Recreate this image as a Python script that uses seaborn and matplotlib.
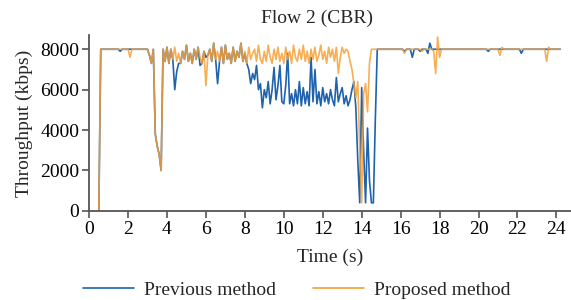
import numpy as np
import pandas as pd
import matplotlib
matplotlib.use("Agg")
import matplotlib.pyplot as plt
import seaborn as sns

sns.set_theme(style="ticks")
plt.rcParams["font.family"] = ["Liberation Serif", "DejaVu Serif"]
plt.rcParams["mathtext.fontset"] = "stix"

# time axis, 0.1 s samples from 0.5 s to 24.2 s
time_s = np.round(np.arange(5, 243) * 0.1, 1)

previous = (
    [0, 8000, 8000, 8000, 8000]
    + [8000, 8000, 8000, 8000, 8000, 8000, 7900, 8000, 8000, 8000]   # 1
    + [8000, 8000, 8000, 8000, 8000, 8000, 8000, 8000, 8000, 8000]   # 2
    + [8000, 7700, 7300, 8000, 3800, 3200, 2800, 2000, 8000, 7400]   # 3
    + [8100, 7300, 8000, 7500, 6000, 6900, 7300, 7300, 7900, 7500]   # 4
    + [8200, 7400, 7800, 7300, 8000, 7500, 8100, 7200, 7300, 7900]   # 5
    + [7600, 7700, 8000, 7400, 8300, 7500, 6300, 7400, 8100, 7300]   # 6
    + [8200, 7500, 7800, 7300, 8100, 7400, 7900, 7600, 8300, 7400]   # 7
    + [7800, 7300, 7000, 6300, 6800, 6500, 7200, 6000, 6300, 5100]   # 8
    + [6000, 5600, 6400, 5300, 6000, 7100, 5500, 6200, 7200, 5400]   # 9
    + [5300, 6200, 7800, 5300, 5800, 5200, 6000, 5300, 6400, 5200]   # 10
    + [6100, 5300, 5900, 5200, 7600, 5400, 7000, 5300, 5900, 5200]   # 11
    + [6100, 5400, 5800, 5300, 6000, 5500, 5200, 6600, 5400, 5800]   # 12
    + [6100, 5300, 5700, 5200, 5500, 6000, 6400, 5100, 2500, 400]    # 13
    + [6100, 3000, 400, 4100, 1500, 400, 400, 4500, 8000, 8000]      # 14
    + [8000, 8000, 8000, 8000, 8000, 8000, 8000, 8000, 8000, 8000]   # 15
    + [8000, 8000, 7900, 8000, 8000, 8000, 7600, 8000, 8000, 8000]   # 16
    + [7900, 8000, 8000, 8000, 7800, 8300, 8000, 8000, 8000, 8000]   # 17
    + [8000, 8000, 8000, 8000, 8000, 8000, 8000, 8000, 8000, 8000]   # 18
    + [8000, 8000, 8000, 8000, 8000, 8000, 8000, 8000, 8000, 8000]   # 19
    + [8000, 8000, 8000, 8000, 8000, 7900, 8000, 8000, 8000, 8000]   # 20
    + [8000, 8000, 8000, 8000, 8000, 8000, 8000, 8000, 8000, 8000]   # 21
    + [8000, 8000, 7800, 8000, 8000, 8000, 8000, 8000, 8000, 8000]   # 22
    + [8000, 8000, 8000, 8000, 8000, 8000, 8000, 8000, 8000, 8000]   # 23
    + [8000, 8000, 8000]
)

proposed = (
    [0, 8000, 8000, 8000, 8000]
    + [8000, 8000, 8000, 8000, 8000, 8000, 8000, 8000, 8000, 8000]   # 1
    + [8000, 7600, 8000, 8000, 8000, 8000, 8000, 8000, 8000, 8000]   # 2
    + [8000, 7700, 7300, 8000, 3800, 3200, 2800, 2000, 8000, 7400]   # 3
    + [8100, 7300, 8000, 7500, 8100, 7400, 7800, 7300, 7900, 7500]   # 4
    + [8200, 7400, 7800, 7300, 8000, 7500, 8100, 7600, 7300, 7900]   # 5
    + [6200, 7700, 8000, 7400, 8300, 7500, 7900, 7400, 8100, 7300]   # 6
    + [8200, 7500, 7800, 7300, 8100, 7400, 7900, 7600, 8300, 7400]   # 7
    + [7900, 7300, 8100, 7500, 7800, 8000, 7400, 8200, 7500, 7300]   # 8
    + [7900, 7400, 8200, 7600, 7300, 8000, 7500, 8100, 7400, 7800]   # 9
    + [7300, 8100, 7500, 7900, 7300, 8200, 7600, 7400, 8000, 7500]   # 10
    + [8200, 7400, 7900, 7300, 8000, 7500, 8100, 7400, 7700, 8200]   # 11
    + [7500, 7900, 7300, 8100, 7600, 8000, 7400, 8100, 6800, 7600]   # 12
    + [8100, 7800, 8000, 7900, 7400, 7000, 6300, 5600, 6400, 3000]   # 13
    + [400, 5800, 6300, 4900, 7300, 8000, 8000, 8000, 8000, 8000]    # 14
    + [8000, 8000, 8000, 8000, 8000, 8000, 8000, 8000, 8000, 8000]   # 15
    + [8000, 8000, 7800, 8000, 8000, 8000, 8000, 8000, 8000, 8000]   # 16
    + [8000, 7900, 8000, 8000, 8000, 8000, 8000, 7900, 6800, 8600]   # 17
    + [7600, 8000, 8000, 8000, 8000, 8000, 8000, 8000, 8000, 8000]   # 18
    + [8000, 8000, 8000, 8000, 8000, 8000, 8000, 8000, 8000, 8000]   # 19
    + [8000, 8000, 8000, 8000, 8000, 8000, 8000, 8000, 8000, 8000]   # 20
    + [8000, 7700, 8100, 8000, 8000, 8000, 8000, 8000, 8000, 8000]   # 21
    + [8000, 8000, 8000, 8000, 8000, 8000, 8000, 8000, 8000, 8000]   # 22
    + [8000, 8000, 8000, 8000, 8000, 7400, 8100, 8000, 8000, 8000]   # 23
    + [8000, 8000, 8000]
)

methods = ["Previous method", "Proposed method"]
colors = {"Previous method": "#1f62ad", "Proposed method": "#f7a035"}

df = pd.concat([
    pd.DataFrame({"Time": time_s, "Throughput": previous, "Method": methods[0]}),
    pd.DataFrame({"Time": time_s, "Throughput": proposed, "Method": methods[1]}),
])

fig = plt.figure(figsize=(5.71, 3.0), dpi=100)
ax = fig.add_axes([0.156, 0.297, 0.844, 0.586])

sns.lineplot(data=df, x="Time", y="Throughput", hue="Method", hue_order=methods,
             palette=colors, estimator=None, sort=False, linewidth=1.2, ax=ax, legend=False)
ax.lines[1].set_alpha(0.85)

ax.set_xlim(0, 24.75)
ax.set_ylim(0, 8700)
ax.set_xticks(np.arange(0, 25, 2))
ax.set_yticks([0, 2000, 4000, 6000, 8000])
sns.despine(ax=ax)
for side in ["left", "bottom"]:
    ax.spines[side].set_color("#555555")
    ax.spines[side].set_linewidth(1.3)
ax.tick_params(colors="#555555", labelcolor="black", labelsize=14, width=1.2, length=5, pad=2)

ax.set_xlabel("Time (s)", fontsize=14, labelpad=8)
ax.set_ylabel("Throughput (kbps)", fontsize=14, labelpad=5)
ax.set_title("Flow 2 (CBR)", fontsize=14, x=0.473, pad=9)

handles = [plt.Line2D([], [], color=colors[m], linewidth=1.2) for m in methods]
fig.legend(handles, methods, loc="lower center", bbox_to_anchor=(0.52, -0.055), ncol=2,
           frameon=False, fontsize=14, handlelength=2.6, columnspacing=1.9, handletextpad=0.55)

fig.savefig("out.png", dpi=100)
